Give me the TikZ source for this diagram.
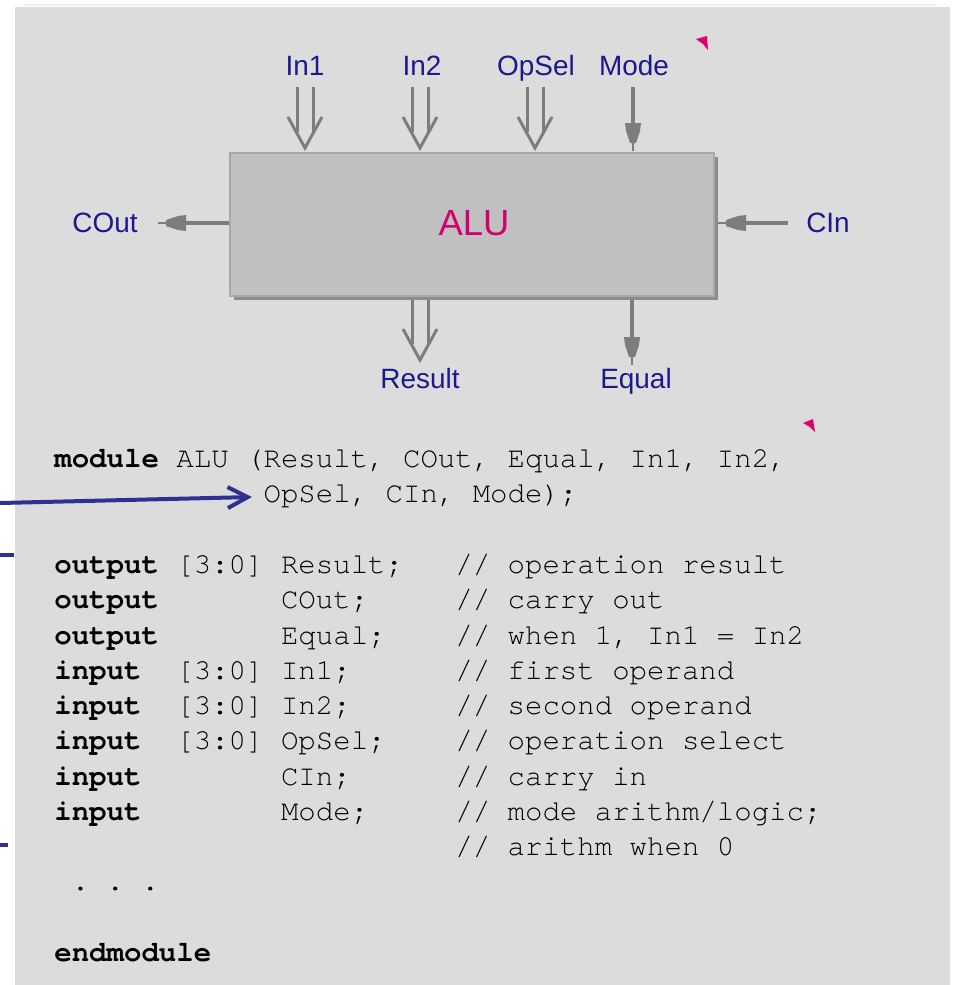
\documentclass[tikz,border=0pt]{standalone}
\usepackage{fontspec}
\setmainfont{Liberation Sans}
\setmonofont[Ligatures={NoCommon}]{TeX Gyre Cursor}
\usetikzlibrary{arrows.meta}
\definecolor{panel}{RGB}{220,220,220}
\definecolor{rimline}{RGB}{243,238,222}
\definecolor{boxfill}{RGB}{192,192,192}
\definecolor{boxedge}{RGB}{168,168,168}
\definecolor{shadowc}{RGB}{140,140,140}
\definecolor{wire}{RGB}{125,125,125}
\definecolor{lblc}{RGB}{26,26,140}
\definecolor{aluc}{RGB}{210,0,110}
\definecolor{flagc}{RGB}{225,0,110}
\definecolor{pointer}{RGB}{46,49,146}

\tikzset{
  lbl/.style={text=lblc, font=\fontsize{15.9pt}{18pt}\selectfont, inner sep=0pt, anchor=base},
  codeline/.style={font=\ttfamily\fontsize{16.54pt}{19pt}\selectfont, inner sep=0pt, anchor=base west},
  wireln/.style={draw=wire, line width=0.06cm},
  pointerln/.style={draw=pointer, line width=0.08cm},
}

\newcommand\busarrow[3]{%
  \begin{scope}[shift={(#1)}, rotate=#2]
    \draw[wireln] (-#3,8) -- (-16,8) (-#3,-8) -- (-16,-8);
    \draw[wireln, line join=miter] (-31,17) -- (0,0) -- (-31,-17);
  \end{scope}}

\newcommand\sigarrow[3]{%
  \begin{scope}[shift={(#1)}, rotate=#2]
    \draw[draw=wire, line width=0.08cm] (-#3,0) -- (-26,0);
    \draw[draw=wire, line width=0.035cm] (-9,0) -- (0,0);
    \fill[wire] (-28,8) -- (-20,7) -- (-8,3) -- (-8,-3) -- (-20,-7) -- (-28,-8) -- cycle;
  \end{scope}}

\begin{document}
\begin{tikzpicture}[x=0.02cm, y=-0.02cm]
  \useasboundingbox (0,0) rectangle (954,985);
  \fill[white] (0,0) rectangle (954,985);
  \fill[panel] (15,7) rectangle (950,985);
  \draw[rimline, line width=0.04cm] (24,5) -- (937,5);

  % ALU block with shadow
  \fill[shadowc] (234,157) rectangle (718,300);
  \node[draw=boxedge, fill=boxfill, line width=0.04cm, minimum width=9.68cm,
        minimum height=2.86cm, inner sep=0pt, anchor=north west] (box) at (229,152) {};
  \node[text=aluc, font=\fontsize{20.7pt}{24pt}\selectfont, inner sep=0pt, anchor=base] (alutext) at (474,235) {ALU};

  % port labels
  \node[lbl] (lIn1)   at (305,75)  {In1};
  \node[lbl] (lIn2)   at (422,75)  {In2};
  \node[lbl] (lOpSel) at (536,75)  {OpSel};
  \node[lbl] (lMode)  at (634,75)  {Mode};
  \node[lbl] (lCOut)  at (105,232) {COut};
  \node[lbl] (lCIn)   at (828,232) {CIn};
  \node[lbl] (lRes)   at (420,388) {Result};
  \node[lbl] (lEq)    at (636,388) {Equal};

  % port arrow tips
  \coordinate (tIn1)   at (305,148);
  \coordinate (tIn2)   at (420,148);
  \coordinate (tOpSel) at (535,148);
  \coordinate (tMode)  at (633,151);
  \coordinate (tRes)   at (420,360);
  \coordinate (tEq)    at (632,365);
  \coordinate (tCOut)  at (158,223);
  \coordinate (tCIn)   at (718,223);

  \busarrow{tIn1}{-90}{61}
  \busarrow{tIn2}{-90}{61}
  \busarrow{tOpSel}{-90}{61}
  \sigarrow{tMode}{-90}{64}
  \busarrow{tRes}{-90}{60}
  \sigarrow{tEq}{-90}{65}
  \sigarrow{tCOut}{180}{71}
  \sigarrow{tCIn}{180}{70}

  % small markers
  \fill[flagc] (696,39) -- (707,36) -- (708,50) -- (703,44) -- cycle;
  \fill[flagc] (803,423) -- (813,419) -- (815,432) -- (810,427) -- cycle;

  % Verilog code
  \node[codeline] (c1)  at (54,467) {\textbf{module}~ALU~(Result,~COut,~Equal,~In1,~In2,};
  \node[codeline] (c2)  at (54,502) {~~~~~~~~~~~~OpSel,~CIn,~Mode);};
  \node[codeline] (c4)  at (54,573) {\textbf{output}~[3:0]~Result;~~~//~operation~result};
  \node[codeline] (c5)  at (54,608) {\textbf{output}~~~~~~~COut;~~~~~//~carry~out};
  \node[codeline] (c6)  at (54,644) {\textbf{output}~~~~~~~Equal;~~~~//~when~1,~In1~=~In2};
  \node[codeline] (c7)  at (54,679) {\textbf{input}~~[3:0]~In1;~~~~~~//~first~operand};
  \node[codeline] (c8)  at (54,714) {\textbf{input}~~[3:0]~In2;~~~~~~//~second~operand};
  \node[codeline] (c9)  at (54,749) {\textbf{input}~~[3:0]~OpSel;~~~~//~operation~select};
  \node[codeline] (c10) at (54,785) {\textbf{input}~~~~~~~~CIn;~~~~~~//~carry~in};
  \node[codeline] (c11) at (54,820) {\textbf{input}~~~~~~~~Mode;~~~~~//~mode~arithm/logic;};
  \node[codeline] (c12) at (54,855) {~~~~~~~~~~~~~~~~~~~~~~~//~arithm~when~0};
  \node[codeline] (c13) at (54,890) {~.~.~.};
  \node[codeline] (c15) at (54,961) {\textbf{endmodule}};

  % blue pointer marks on the left
  \coordinate (pA) at (0,503);
  \coordinate (pB) at (252,497);
  \draw[pointerln, -{Straight Barb[length=0.4cm,width=0.42cm]}] (pA) -- (pB);
  \coordinate (m1a) at (0,555);
  \coordinate (m1b) at (14,555);
  \draw[pointerln] (m1a) -- (m1b);
  \coordinate (m2a) at (0,845);
  \coordinate (m2b) at (8,845);
  \draw[pointerln] (m2a) -- (m2b);
\end{tikzpicture}
\end{document}
